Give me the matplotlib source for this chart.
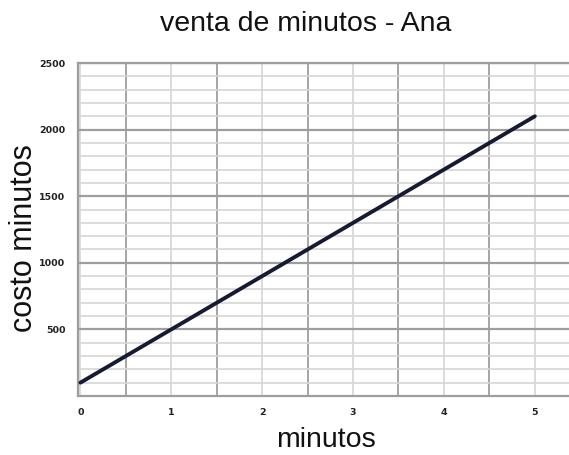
import matplotlib
matplotlib.use("Agg")
import matplotlib.pyplot as plt
from matplotlib.ticker import MultipleLocator, FixedLocator

# Data: cost of minutes sold by Ana
minutos = [0, 1, 2, 3, 4, 5]
costo = [100, 500, 900, 1300, 1700, 2100]

x_ticks = [0, 1, 2, 3, 4, 5]
y_ticks = [500, 1000, 1500, 2000, 2500]

plt.rcParams['font.family'] = ['Liberation Sans', 'DejaVu Sans']

fig = plt.figure(figsize=(5.69, 4.55), dpi=100)
ax = fig.add_axes([0.137, 0.1297, 0.870, 0.7318])

major_grid = '#9e9e9e'
minor_grid = '#d6d6d6'

ax.set_xlim(-0.027, 5.42)
ax.set_ylim(0, 2500)

# vertical grid: darker at half-units, lighter at whole units
ax.xaxis.set_major_locator(FixedLocator(x_ticks))
ax.xaxis.set_minor_locator(FixedLocator([0.5, 1.5, 2.5, 3.5, 4.5]))
ax.grid(True, axis='x', which='minor', color=major_grid, lw=1.3)
ax.grid(True, axis='x', which='major', color=minor_grid, lw=1.2)

# horizontal grid: darker every 500, lighter every 100
ax.yaxis.set_major_locator(FixedLocator(y_ticks))
ax.yaxis.set_minor_locator(MultipleLocator(100))
ax.grid(True, axis='y', which='major', color=major_grid, lw=1.6)
ax.grid(True, axis='y', which='minor', color=minor_grid, lw=1.2)
ax.set_axisbelow(True)

ax.plot(minutos, costo, color='#161b33', lw=2.8, solid_capstyle='round', zorder=3)

ax.set_xticks(x_ticks)
ax.set_xticklabels([str(v) for v in x_ticks])
ax.set_yticks(y_ticks)
ax.set_yticklabels([str(v) for v in y_ticks])
ax.tick_params(axis='both', which='both', length=0, colors='#222222')
ax.tick_params(axis='x', pad=9)
ax.tick_params(axis='y', pad=9)
for lbl in ax.get_xticklabels() + ax.get_yticklabels():
    lbl.set_fontweight('bold')
    lbl.set_family(['DejaVu Sans'])
    lbl.set_fontsize(6.8)

for side in ['left', 'bottom', 'top']:
    ax.spines[side].set_color(major_grid)
    ax.spines[side].set_linewidth(1.6)
ax.spines['right'].set_visible(False)

ax.set_xlabel('minutos', fontsize=20.5, labelpad=7, color='#111111')
ax.set_ylabel('costo minutos', fontsize=22, color='#111111')
ax.yaxis.set_label_coords(-0.078, 0.474)

fig.text(0.538, 0.947, 'venta de minutos - Ana', ha='center', va='center',
         fontsize=20.5, color='#111111')

fig.savefig('out.png', dpi=100, facecolor='white')
